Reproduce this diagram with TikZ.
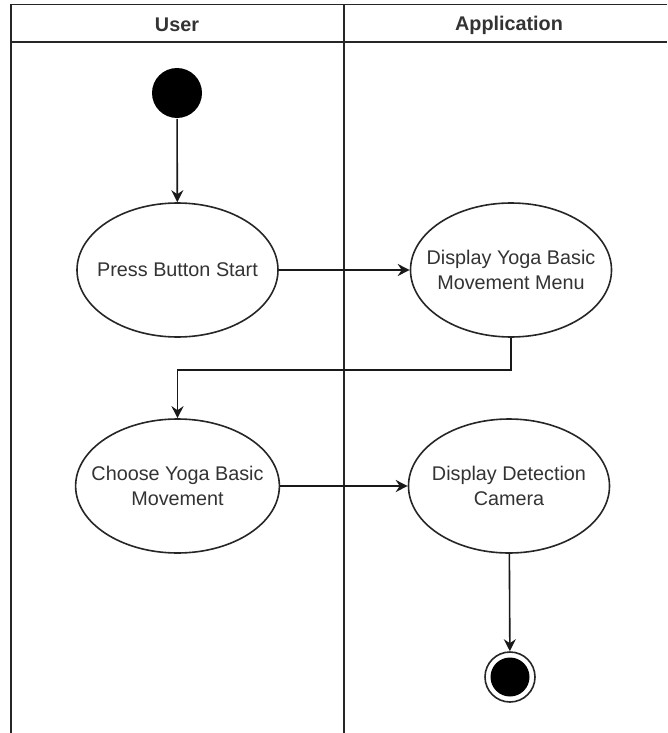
\documentclass[tikz,border=0pt]{standalone}
\usepackage{fontspec}
\setmainfont{Liberation Sans}
\usetikzlibrary{shapes}
\usetikzlibrary{arrows.meta}

\begin{document}
\begin{tikzpicture}[x=1pt, y=-1pt, line width=1.6pt,
  every node/.style={font=\fontsize{19.8}{25.5}\selectfont, text=black!80},
  lane/.style={font=\fontsize{19.8}{24}\selectfont\bfseries},
  activity/.style={ellipse, draw=black!85, fill=white, minimum width=201pt, minimum height=134pt, inner xsep=-14pt, inner ysep=0pt, align=center},
  initial/.style={circle, fill=black, minimum size=50pt, inner sep=0pt},
  final/.style={circle, draw=black!85, fill=white, minimum size=50pt, inner sep=0pt,
    path picture={\fill[black] (path picture bounding box.center) circle (19.5pt);}},
  flow/.style={draw=black!90, -{Stealth[length=12pt, width=12pt, inset=4pt]}}]
\useasboundingbox (0,0) rectangle (667,733);
%%% swimlanes %%%
\draw[black!85] (667,4.5) -- (11,4.5) -- (11,733);
\draw[black!85, line width=2pt] (11,42) -- (667,42);
\draw[black!85] (344,4.5) -- (344,733);
\node[lane] (user) at (177,25) {User};
\node[lane] (application) at (509,25) {Application};

%%% activities %%%
\node[initial] (start) at (177,93) {};
\node[activity] (press) at (177.5,270) {Press Button Start};
\node[activity] (menu) at (511,270) {Display Yoga Basic\\Movement Menu};
\node[activity] (choose) at (177.5,486) {Choose Yoga Basic\\Movement};
\node[activity] (camera) at (509,486) {Display Detection\\Camera};
\node[final] (stop) at (510,677) {};

%%% flows %%%
\draw[flow] (start) -- (press);
\draw[flow] (press) -- (menu);
\draw[flow] (menu.south) -- ++(0,32) -| (choose.north);
\draw[flow] (choose) -- (camera);
\draw[flow] (camera) -- (stop);

\end{tikzpicture}
\end{document}
